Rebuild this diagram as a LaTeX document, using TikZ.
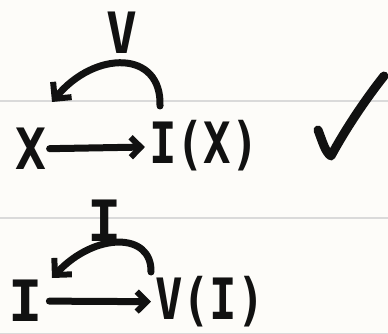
\documentclass[tikz,border=0pt]{standalone}
\usepackage{fontspec}
\newfontfamily\hand{DejaVu Sans Mono Bold}
\usetikzlibrary{arrows.meta}
\definecolor{paper}{HTML}{FDFCF9}
\definecolor{ink}{HTML}{111111}
\definecolor{rulec}{HTML}{DADADA}
\tikzset{
  handtext/.style={font=\hand\fontsize{57}{57}\selectfont, text=ink, inner sep=0pt},
  ruleline/.style={draw=rulec, line width=1.6pt},
  harrow/.style={draw=ink, line width=7pt, line cap=round,
    -{Straight Barb[length=10pt,width=20pt,line width=6pt]}},
  carrow/.style={draw=ink, line width=7pt, line cap=round,
    -{Straight Barb[length=12pt,width=24pt,line width=6pt]}},
}
\begin{document}
\begin{tikzpicture}[x=1pt,y=-1pt]
\fill[paper] (0,0) rectangle (388,334);
\useasboundingbox (0,0) rectangle (388,334);
\draw[ruleline] (0,101) -- (388,101);
\draw[ruleline] (0,218) -- (388,218);
\draw[ruleline] (0,333.5) -- (388,333.5);
% top row
\node[handtext, xscale=0.9] (x1) at (31,149) {X};
\node[handtext, xscale=0.8] (ix) at (204,146) {I(X)};
\node[handtext, xscale=0.9] (vlab) at (122,33) {V};
\draw[harrow] (x1) -- (ix) [shorten <=3pt, shorten >=4pt];
\coordinate (t1s) at (160,106);
\coordinate (t1e) at (52,102);
\draw[carrow] (t1s) .. controls (162,50) and (95,50) .. (t1e);
% check mark
\draw[ink, line width=9pt, line cap=round, line join=round]
  (318,130) .. controls (322,140) and (325,152) .. (331,156)
  .. controls (345,130) and (365,100) .. (384,76);
% bottom row
\node[handtext] (i1) at (26,301) {I};
\node[handtext, xscale=0.8] (vi) at (210,302) {V(I)};
\node[handtext] (ilab) at (105,221) {I};
\draw[harrow] (i1) -- (vi) [shorten <=6pt, shorten >=4pt];
\coordinate (t2s) at (151,272);
\coordinate (t2e) at (52,278);
\draw[carrow] (t2s) .. controls (152,232) and (95,232) .. (t2e);
\end{tikzpicture}
\end{document}
